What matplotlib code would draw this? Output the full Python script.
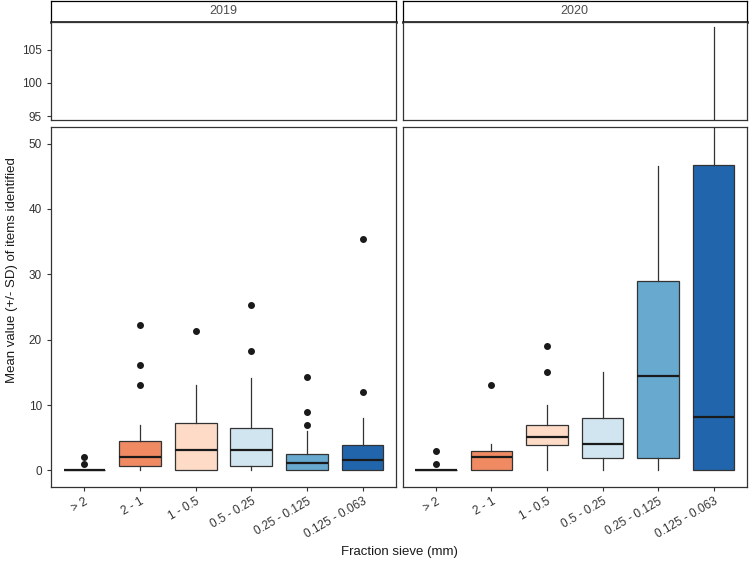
import matplotlib.pyplot as plt

plt.rcParams['font.family'] = ['Liberation Sans', 'DejaVu Sans']

categories = ["> 2", "2 - 1", "1 - 0.5", "0.5 - 0.25", "0.25 - 0.125", "0.125 - 0.063"]
colors = ["#B2182B", "#EF8A62", "#FDDBC7", "#D1E5F0", "#67A9CF", "#2166AC"]
years = ["2019", "2020"]

# box statistics
whislo_2019 = [0, 0, 0, 0, 0, 0]
q1_2019 = [0, 0.7, 0, 0.7, 0, 0]
med_2019 = [0, 2.05, 3.1, 3.2, 1.1, 1.55]
q3_2019 = [0, 4.45, 7.3, 6.55, 2.55, 3.95]
whishi_2019 = [0, 7.0, 13.0, 14.1, 6.0, 8.1]
fliers_2019 = [[1, 2], [13, 16.2, 22.3], [21.3], [18.3, 25.3], [7, 9, 14.3], [12, 35.4]]

whislo_2020 = [0, 0, 0, 0, 0, 0]
q1_2020 = [0, 0, 3.95, 1.95, 1.95, 0]
med_2020 = [0, 2.05, 5.1, 4.0, 14.5, 8.15]
q3_2020 = [0, 3.0, 7.0, 8.1, 28.9, 46.7]
whishi_2020 = [0, 4.0, 10.0, 15.1, 46.5, 108.5]
fliers_2020 = [[1, 3], [13], [15.1, 19.1], [], [], []]

stats_by_year = {
    "2019": (whislo_2019, q1_2019, med_2019, q3_2019, whishi_2019, fliers_2019),
    "2020": (whislo_2020, q1_2020, med_2020, q3_2020, whishi_2020, fliers_2020),
}

W, H = 749, 566
fig = plt.figure(figsize=(W / 100, H / 100), dpi=100)


def px_axes(x0, y0, x1, y1):
    return fig.add_axes([x0 / W, 1 - y1 / H, (x1 - x0) / W, (y1 - y0) / H])


edge = "#333333"
panel_x = {"2019": (51, 396), "2020": (402.5, 747)}

for year in years:
    x0, x1 = panel_x[year]
    lo, q1, med, q3, hi, fl = stats_by_year[year]
    stats = [dict(whislo=lo[i], q1=q1[i], med=med[i], q3=q3[i], whishi=hi[i], fliers=fl[i])
             for i in range(len(categories))]

    strip = px_axes(x0, 1, x1, 22)
    strip.set_xticks([])
    strip.set_yticks([])
    for s in strip.spines.values():
        s.set_color("black")
        s.set_linewidth(0.9)
    strip.spines["bottom"].set_linewidth(1.8)
    strip.text(0.5, 0.5, year, ha="center", va="center", fontsize=9, color="#4d4d4d",
               transform=strip.transAxes)

    ax_top = px_axes(x0, 22, x1, 120)
    ax_bot = px_axes(x0, 126.5, x1, 486.5)

    for ax in (ax_top, ax_bot):
        bp = ax.bxp(stats, positions=range(1, 7), widths=0.75, patch_artist=True,
                    showcaps=False,
                    boxprops=dict(edgecolor=edge, linewidth=0.9),
                    whiskerprops=dict(color=edge, linewidth=0.9),
                    medianprops=dict(color="#1a1a1a", linewidth=1.6),
                    flierprops=dict(marker="o", markerfacecolor="#1a1a1a",
                                    markeredgecolor="#1a1a1a", markersize=4))
        for patch, c in zip(bp["boxes"], colors):
            patch.set_facecolor(c)
        ax.set_xlim(0.4, 6.6)
        for s in ax.spines.values():
            s.set_color(edge)
            s.set_linewidth(0.9)
        ax.tick_params(colors=edge, labelcolor="#333333", labelsize=8.5, length=3, width=0.8)

    ax_top.set_ylim(94.4, 109.2)
    ax_top.set_yticks([95, 100, 105])
    ax_top.set_xticks([])
    ax_bot.set_ylim(-2.45, 52.6)
    ax_bot.set_yticks([0, 10, 20, 30, 40, 50])
    ax_bot.set_xticks(range(1, 7))
    ax_bot.set_xticklabels(categories, rotation=30, ha="right", va="top",
                           rotation_mode="anchor")

    if year == "2020":
        ax_top.set_yticks([])
        ax_bot.tick_params(axis="y", left=False, labelleft=False)

fig.text(12 / W, 1 - 270 / H, "Mean value (+/- SD) of items identified", rotation=90,
         ha="center", va="center", fontsize=9.5, color="#1a1a1a")
fig.text(399 / W, 1 - 552 / H, "Fraction sieve (mm)", ha="center", va="center",
         fontsize=9.5, color="#1a1a1a")

fig.savefig("out.png", dpi=100)
